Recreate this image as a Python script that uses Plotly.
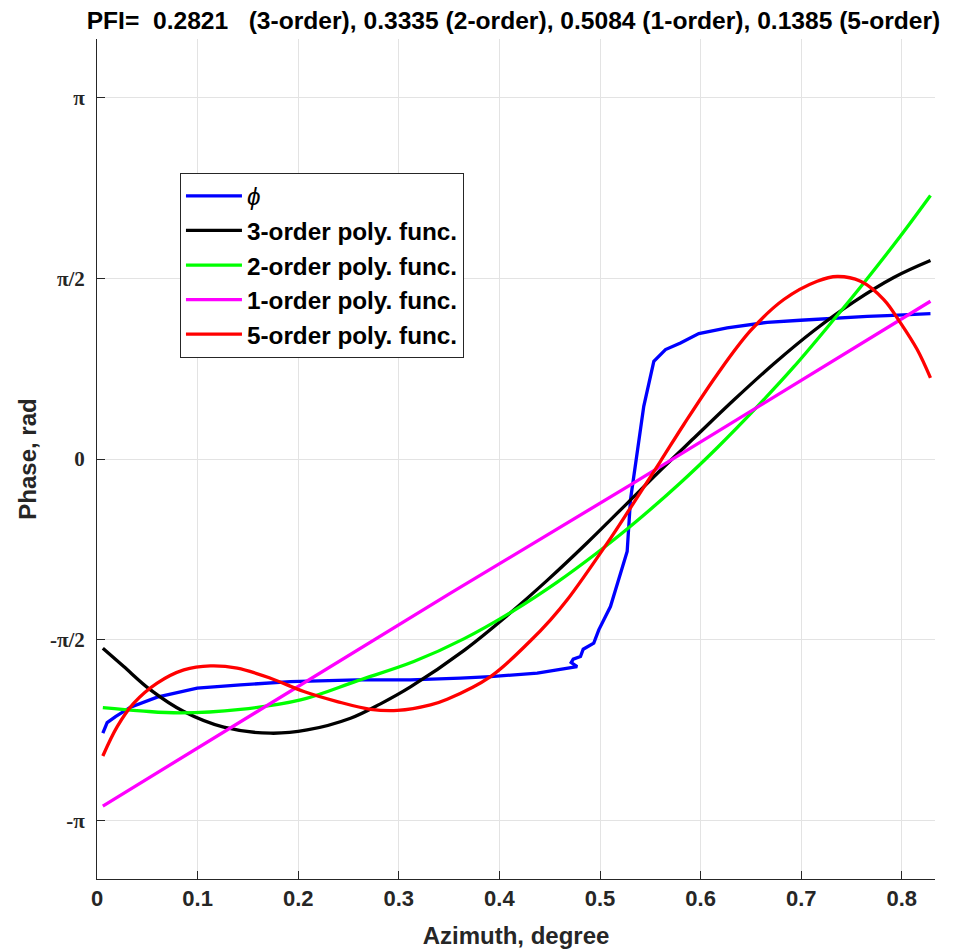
import plotly.graph_objects as go
import math

# ---- data ----
phi_x = [0.0058, 0.0101, 0.0184, 0.0333, 0.0598, 0.0996, 0.1426, 0.1923, 0.2586, 0.3116,
         0.3613, 0.3912, 0.4376, 0.4674, 0.4773, 0.4714, 0.4734, 0.4806, 0.4833, 0.4938,
         0.4988, 0.5104, 0.5187, 0.5270, 0.5303, 0.5363, 0.5435, 0.5535, 0.5651, 0.5800,
         0.5982, 0.6264, 0.6662, 0.6993, 0.7324, 0.7656, 0.7855, 0.8285]
phi_y = [-2.383, -2.291, -2.239, -2.157, -2.070, -1.992, -1.963, -1.934, -1.920, -1.920,
         -1.905, -1.891, -1.861, -1.818, -1.804, -1.769, -1.740, -1.717, -1.653, -1.600,
         -1.485, -1.282, -1.050, -0.804, -0.354, 0.023, 0.458, 0.849, 0.951, 1.009,
         1.090, 1.139, 1.188, 1.206, 1.226, 1.240, 1.246, 1.264]

p3_x = [0.0058, 0.0266, 0.0532, 0.0863, 0.1260, 0.1725, 0.2089, 0.2520, 0.2818, 0.3116,
        0.3646, 0.4078, 0.4475, 0.4873, 0.5270, 0.5601, 0.5932, 0.6330, 0.6728, 0.7125,
        0.7523, 0.7920, 0.8285]
p3_y = [-1.644, -1.804, -2.007, -2.195, -2.331, -2.383, -2.355, -2.253, -2.128, -1.981,
        -1.665, -1.360, -1.055, -0.728, -0.385, -0.098, 0.180, 0.512, 0.828, 1.115,
        1.366, 1.578, 1.725]

p2_x = [0.0058, 0.0432, 0.0830, 0.1426, 0.2023, 0.2586, 0.3149, 0.3646, 0.4143, 0.4575,
        0.4972, 0.5303, 0.5800, 0.6165, 0.6563, 0.6926, 0.7324, 0.7622, 0.7987, 0.8285]
p2_y = [-2.161, -2.189, -2.207, -2.176, -2.094, -1.928, -1.760, -1.563, -1.317, -1.070,
        -0.815, -0.585, -0.206, 0.098, 0.455, 0.800, 1.212, 1.530, 1.938, 2.290]

p1_x = [0.0058, 0.2818, 0.3514, 0.5303, 0.8285]
p1_y = [-3.016, -1.543, -1.166, -0.225, 1.371]

p5_x = [0.0058, 0.0201, 0.0366, 0.0598, 0.0863, 0.1128, 0.1394, 0.1725, 0.2056, 0.2388,
        0.2719, 0.2987, 0.3315, 0.3481, 0.3912, 0.4309, 0.4508, 0.4674, 0.5072, 0.5303,
        0.5601, 0.5833, 0.6165, 0.6496, 0.6827, 0.7159, 0.7358, 0.7590, 0.7821, 0.7987,
        0.8153, 0.8285]
p5_y = [-2.581, -2.326, -2.122, -1.948, -1.833, -1.798, -1.818, -1.905, -2.021, -2.108,
        -2.175, -2.185, -2.137, -2.088, -1.891, -1.580, -1.398, -1.224, -0.731, -0.424,
        -0.020, 0.300, 0.735, 1.115, 1.386, 1.545, 1.586, 1.545, 1.386, 1.183,
        0.951, 0.705]

names = ["<i>ϕ</i>", "<b>3-order poly. func.</b>", "<b>2-order poly. func.</b>",
         "<b>1-order poly. func.</b>", "<b>5-order poly. func.</b>"]
colors = ["#0000FF", "#000000", "#00FF00", "#FF00FF", "#FF0000"]

y_tickvals = [-math.pi, -math.pi / 2, 0, math.pi / 2, math.pi]
y_ticktext = ["<b>-π</b>", "<b>-π/2</b>", "<b>0</b>", "<b>π/2</b>", "<b>π</b>"]
x_tickvals = [0, 0.1, 0.2, 0.3, 0.4, 0.5, 0.6, 0.7, 0.8]
x_ticktext = ["<b>0</b>", "<b>0.1</b>", "<b>0.2</b>", "<b>0.3</b>", "<b>0.4</b>",
              "<b>0.5</b>", "<b>0.6</b>", "<b>0.7</b>", "<b>0.8</b>"]

title_text = ("PFI=\u00a0\u00a00.2821\u00a0\u00a0\u00a0(3-order), 0.3335 (2-order), "
              "0.5084 (1-order), 0.1385 (5-order)")

series = [(phi_x, phi_y, "linear"), (p3_x, p3_y, "spline"), (p2_x, p2_y, "spline"),
          (p1_x, p1_y, "linear"), (p5_x, p5_y, "spline")]

fig = go.Figure()
for (xs, ys, shp), nm, col in zip(series, names, colors):
    fig.add_trace(go.Scatter(x=xs, y=ys, mode="lines", name=nm,
                             line=dict(color=col, width=3.3, shape=shp)))

axis_col = "#262626"
fig.update_layout(
    width=953, height=949,
    margin=dict(l=97, r=18, t=39, b=70),
    paper_bgcolor="white", plot_bgcolor="white",
    font=dict(family="Liberation Sans, Arial, sans-serif", color="#000000"),
    title=dict(text="<b>" + title_text + "</b>", x=0.497, xref="paper", xanchor="center",
               y=0.979, yanchor="middle", font=dict(size=24.6, color="#000000")),
    xaxis=dict(range=[0, 0.833], tickvals=x_tickvals, ticktext=x_ticktext,
               automargin=False,
               showgrid=True, gridcolor="#e3e3e3", gridwidth=1, zeroline=False,
               showline=True, linecolor=axis_col, linewidth=1,
               ticks="inside", ticklen=8, tickcolor=axis_col,
               tickfont=dict(size=22, family="Liberation Sans, Arial", color="#262626"),
               title=dict(text="<b>Azimuth, degree</b>", font=dict(size=24, color="#262626"),
                          standoff=20)),
    yaxis=dict(range=[-3.65, 3.65], tickvals=y_tickvals, ticktext=y_ticktext,
               automargin=False,
               showgrid=True, gridcolor="#e3e3e3", gridwidth=1, zeroline=False,
               showline=True, linecolor=axis_col, linewidth=1,
               ticks="inside", ticklen=8, tickcolor=axis_col,
               tickfont=dict(size=21, family="Liberation Serif, serif", color="#262626"),
               ticklabelstandoff=7,
               title=dict(text="<b>Phase, rad</b>", font=dict(size=24, color="#262626"),
                          standoff=6)),
    legend=dict(x=0.099, y=0.841, xanchor="left", yanchor="top",
                bgcolor="white", bordercolor=axis_col, borderwidth=1,
                font=dict(size=24.3, family="Liberation Sans, Arial", color="#000000"),
                itemwidth=56, tracegroupgap=0),
    showlegend=True,
)
fig.write_html("out.html")
